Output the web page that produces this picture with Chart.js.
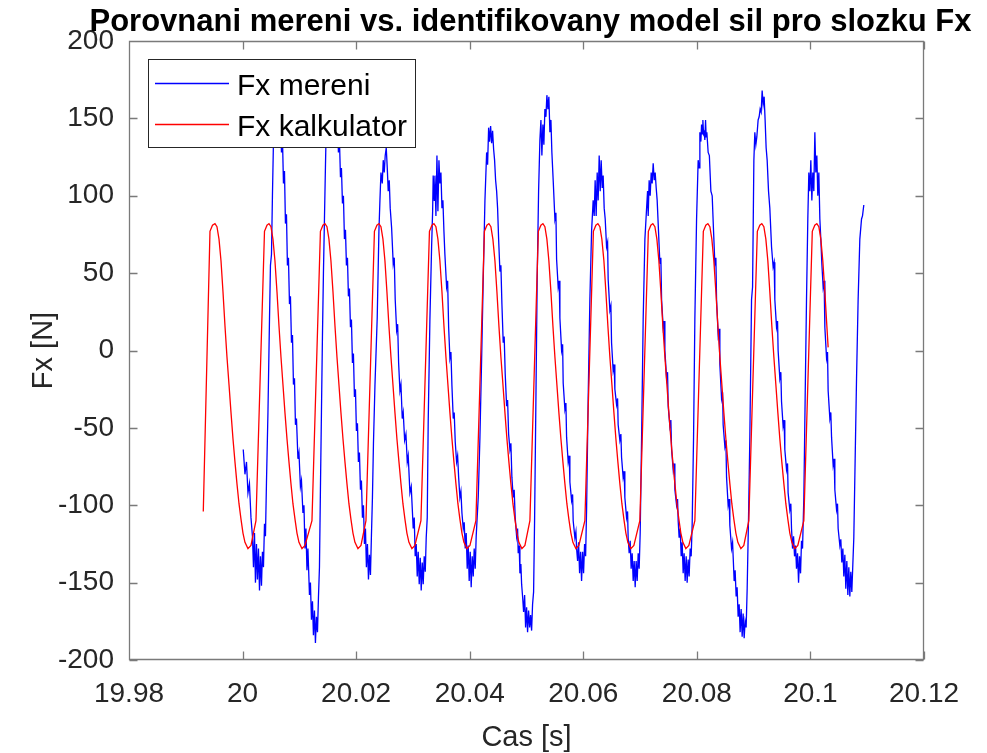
<!DOCTYPE html>
<html>
<head>
<meta charset="utf-8">
<title>Fx mereni vs. model</title>
<script src="https://cdn.jsdelivr.net/npm/chart.js@4.4.1/dist/chart.umd.min.js"></script>
<style>
    html, body { margin: 0; padding: 0; background: #ffffff; }
    #box { width: 987px; height: 753px; }
</style>
</head>
<body>
<div id="box"><canvas id="fxChart" width="987" height="753"></canvas></div>
<script>
const chartTitle = 'Porovnani mereni vs. identifikovany model sil pro slozku Fx';
const xAxisLabel = 'Cas [s]';
const yAxisLabel = 'Fx [N]';
const seriesNames = ['Fx mereni', 'Fx kalkulator'];

const xTicks = [19.98, 20, 20.02, 20.04, 20.06, 20.08, 20.1, 20.12];
const xTickLabels = ['19.98', '20', '20.02', '20.04', '20.06', '20.08', '20.1', '20.12'];
const yTicks = [-200, -150, -100, -50, 0, 50, 100, 150, 200];

// measured force (blue)
const measuredTime = [
    20.00012, 20.00042, 20.00069, 20.00095, 20.00121, 20.00148, 20.00174, 20.00192, 20.00210, 20.00227,
    20.00245, 20.00262, 20.00280, 20.00298, 20.00315, 20.00333, 20.00350, 20.00368, 20.00386, 20.00403,
    20.00421, 20.00447, 20.00474, 20.00491, 20.00509, 20.00526, 20.00544, 20.00570, 20.00641, 20.00667,
    20.00685, 20.00702, 20.00720, 20.00738, 20.00755, 20.00773, 20.00790, 20.00808, 20.00826, 20.00843,
    20.00861, 20.00879, 20.00896, 20.00914, 20.00931, 20.00949, 20.00975, 20.00993, 20.01019, 20.01037,
    20.01063, 20.01081, 20.01099, 20.01116, 20.01134, 20.01151, 20.01178, 20.01195, 20.01213, 20.01231,
    20.01248, 20.01266, 20.01283, 20.01301, 20.01319, 20.01336, 20.01354, 20.01371, 20.01389, 20.01407,
    20.01424, 20.01442, 20.01460, 20.01477, 20.01504, 20.01644, 20.01671, 20.01688, 20.01706, 20.01724,
    20.01741, 20.01759, 20.01776, 20.01794, 20.01812, 20.01829, 20.01847, 20.01864, 20.01882, 20.01900,
    20.01917, 20.01935, 20.01952, 20.01970, 20.01988, 20.02005, 20.02023, 20.02040, 20.02058, 20.02076,
    20.02093, 20.02111, 20.02129, 20.02146, 20.02164, 20.02181, 20.02199, 20.02217, 20.02234, 20.02252,
    20.02269, 20.02287, 20.02305, 20.02331, 20.02371, 20.02401, 20.02419, 20.02437, 20.02460, 20.02477,
    20.02495, 20.02512, 20.02530, 20.02548, 20.02565, 20.02583, 20.02600, 20.02625, 20.02653, 20.02671,
    20.02688, 20.02713, 20.02731, 20.02748, 20.02771, 20.02789, 20.02812, 20.02829, 20.02854, 20.02877,
    20.02900, 20.02917, 20.02947, 20.02970, 20.03005, 20.03023, 20.03040, 20.03058, 20.03076, 20.03093,
    20.03111, 20.03129, 20.03146, 20.03164, 20.03181, 20.03199, 20.03217, 20.03234, 20.03252, 20.03269,
    20.03299, 20.03329, 20.03347, 20.03357, 20.03375, 20.03387, 20.03405, 20.03423, 20.03440, 20.03458,
    20.03475, 20.03493, 20.03511, 20.03528, 20.03546, 20.03563, 20.03593, 20.03611, 20.03629, 20.03651,
    20.03669, 20.03687, 20.03710, 20.03727, 20.03745, 20.03769, 20.03787, 20.03805, 20.03827, 20.03845,
    20.03863, 20.03886, 20.03903, 20.03921, 20.03938, 20.03956, 20.03974, 20.03991, 20.04009, 20.04026,
    20.04044, 20.04062, 20.04079, 20.04097, 20.04114, 20.04150, 20.04180, 20.04210, 20.04238, 20.04268,
    20.04298, 20.04315, 20.04333, 20.04350, 20.04368, 20.04386, 20.04403, 20.04421, 20.04438, 20.04456,
    20.04474, 20.04491, 20.04509, 20.04532, 20.04549, 20.04567, 20.04590, 20.04607, 20.04625, 20.04650,
    20.04667, 20.04685, 20.04708, 20.04725, 20.04743, 20.04766, 20.04783, 20.04801, 20.04826, 20.04843,
    20.04854, 20.04871, 20.04884, 20.04901, 20.04914, 20.04931, 20.04949, 20.04967, 20.04984, 20.05002,
    20.05019, 20.05037, 20.05055, 20.05072, 20.05090, 20.05107, 20.05125, 20.05143, 20.05166, 20.05188,
    20.05213, 20.05236, 20.05254, 20.05271, 20.05289, 20.05306, 20.05324, 20.05342, 20.05359, 20.05377,
    20.05394, 20.05412, 20.05430, 20.05447, 20.05470, 20.05500, 20.05518, 20.05530, 20.05558, 20.05576,
    20.05588, 20.05618, 20.05636, 20.05646, 20.05676, 20.05694, 20.05706, 20.05734, 20.05752, 20.05764,
    20.05794, 20.05812, 20.05822, 20.05852, 20.05870, 20.05882, 20.05900, 20.05917, 20.05935, 20.05953,
    20.05970, 20.05988, 20.06005, 20.06023, 20.06041, 20.06058, 20.06086, 20.06116, 20.06146, 20.06174,
    20.06192, 20.06209, 20.06227, 20.06245, 20.06262, 20.06280, 20.06298, 20.06315, 20.06333, 20.06350,
    20.06368, 20.06386, 20.06410, 20.06428, 20.06438, 20.06468, 20.06486, 20.06498, 20.06526, 20.06544,
    20.06556, 20.06586, 20.06604, 20.06614, 20.06644, 20.06662, 20.06674, 20.06702, 20.06720, 20.06732,
    20.06762, 20.06780, 20.06790, 20.06808, 20.06826, 20.06843, 20.06861, 20.06879, 20.06896, 20.06914,
    20.06931, 20.06949, 20.06967, 20.06984, 20.07002, 20.07027, 20.07055, 20.07085, 20.07115, 20.07132,
    20.07143, 20.07160, 20.07178, 20.07196, 20.07213, 20.07231, 20.07249, 20.07266, 20.07284, 20.07301,
    20.07319, 20.07349, 20.07366, 20.07379, 20.07407, 20.07424, 20.07437, 20.07467, 20.07484, 20.07495,
    20.07525, 20.07542, 20.07555, 20.07583, 20.07600, 20.07613, 20.07643, 20.07660, 20.07671, 20.07688,
    20.07706, 20.07724, 20.07741, 20.07759, 20.07776, 20.07794, 20.07812, 20.07829, 20.07847, 20.07864,
    20.07882, 20.07900, 20.07917, 20.07942, 20.07965, 20.07995, 20.08023, 20.08041, 20.08053, 20.08071,
    20.08083, 20.08094, 20.08106, 20.08118, 20.08129, 20.08141, 20.08153, 20.08164, 20.08176, 20.08199,
    20.08220, 20.08247, 20.08270, 20.08294, 20.08317, 20.08335, 20.08347, 20.08375, 20.08393, 20.08405,
    20.08435, 20.08453, 20.08463, 20.08493, 20.08511, 20.08523, 20.08551, 20.08569, 20.08581, 20.08611,
    20.08629, 20.08639, 20.08657, 20.08674, 20.08692, 20.08709, 20.08727, 20.08745, 20.08762, 20.08780,
    20.08798, 20.08815, 20.08833, 20.08850, 20.08868, 20.08886, 20.08910, 20.08933, 20.08963, 20.08981,
    20.09004, 20.09021, 20.09039, 20.09056, 20.09079, 20.09097, 20.09114, 20.09132, 20.09150, 20.09167,
    20.09185, 20.09202, 20.09220, 20.09238, 20.09262, 20.09285, 20.09315, 20.09343, 20.09361, 20.09373,
    20.09403, 20.09421, 20.09431, 20.09461, 20.09479, 20.09491, 20.09519, 20.09537, 20.09549, 20.09579,
    20.09597, 20.09607, 20.09637, 20.09655, 20.09667, 20.09685, 20.09703, 20.09720, 20.09738, 20.09755,
    20.09773, 20.09791, 20.09808, 20.09826, 20.09843, 20.09861, 20.09884, 20.09907, 20.09931, 20.09954,
    20.09972, 20.09990, 20.10007, 20.10025, 20.10042, 20.10060, 20.10078, 20.10095, 20.10113, 20.10130,
    20.10148, 20.10166, 20.10183, 20.10201, 20.10224, 20.10241, 20.10254, 20.10284, 20.10301, 20.10312,
    20.10342, 20.10359, 20.10372, 20.10400, 20.10417, 20.10430, 20.10460, 20.10477, 20.10488, 20.10518,
    20.10535, 20.10553, 20.10571, 20.10588, 20.10606, 20.10623, 20.10641, 20.10659, 20.10676, 20.10694,
    20.10711, 20.10729, 20.10747, 20.10764, 20.10782, 20.10812, 20.10840, 20.10870, 20.10900, 20.10917,
    20.10940
];
const measuredForce = [
    -64, -80, -72, -92, -86, -108, -120, -140, -118, -150,
    -125, -148, -128, -155, -133, -152, -130, -140, -112, -120,
    -85, -40, 20, 55, 62, 100, 135, 175, 178, 150,
    128, 138, 108, 116, 82, 88, 55, 60, 30, 35,
    5, 10, -22, -18, -48, -44, -70, -66, -88, -84,
    -105, -100, -128, -115, -142, -128, -158, -150, -174, -162,
    -184, -168, -189, -172, -182, -160, -140, -90, -40, 10,
    50, 85, 120, 150, 180, 180, 150, 128, 136, 112,
    118, 95, 100, 72, 78, 55, 60, 35, 40, 15,
    20, -8, -2, -30, -25, -52, -47, -72, -66, -90,
    -84, -108, -100, -125, -115, -140, -125, -148, -132, -145,
    -120, -95, -60, -23, 21, 77, 97, 115, 108, 123,
    115, 126, 131, 118, 103, 110, 92, 79, 56, 60,
    33, 13, 17, -8, -26, -22, -44, -40, -58, -54,
    -72, -68, -92, -88, -115, -108, -133, -125, -146, -130,
    -151, -134, -155, -137, -151, -133, -143, -121, -108, -46,
    20, 67, 90, 113, 97, 113, 87, 126, 90, 123,
    108, 115, 92, 97, 77, 62, 41, 45, 15, -5,
    -1, -23, -44, -40, -59, -72, -68, -82, -95, -91,
    -105, -115, -111, -128, -118, -141, -126, -149, -130, -153,
    -133, -146, -128, -141, -120, -95, -56, -5, 46, 97,
    128, 120, 144, 135, 145, 134, 142, 130, 123, 110,
    103, 92, 72, 51, 55, 30, 5, 9, -15, -36,
    -32, -54, -64, -60, -82, -95, -90, -108, -120, -115,
    -131, -126, -144, -138, -151, -159, -169, -158, -179, -166,
    -182, -168, -179, -171, -181, -164, -156, -108, -31, 46,
    103, 136, 149, 126, 146, 133, 156, 151, 165, 156,
    164, 141, 149, 128, 110, 85, 89, 59, 41, 45,
    21, 0, 4, -21, -38, -34, -56, -72, -68, -85,
    -97, -93, -110, -121, -117, -128, -136, -124, -144, -130,
    -149, -130, -144, -125, -133, -103, -31, 33, 77, 97,
    87, 110, 87, 115, 97, 126, 103, 123, 105, 113,
    92, 85, 67, 70, 46, 26, 29, 5, -13, -9,
    -25, -35, -31, -48, -58, -54, -69, -82, -78, -95,
    -108, -104, -121, -131, -123, -141, -131, -149, -136, -153,
    -136, -149, -131, -141, -118, -56, 21, 72, 92, 103,
    87, 110, 100, 115, 108, 121, 110, 115, 105, 97,
    82, 56, 60, 33, 15, 19, 0, -18, -14, -36,
    -49, -45, -64, -77, -73, -90, -100, -96, -110, -121,
    -115, -133, -124, -144, -131, -149, -133, -150, -135, -146,
    -128, -133, -113, -56, 21, 85, 123, 118, 141, 135,
    146, 140, 149, 140, 141, 136, 149, 138, 141, 128,
    126, 103, 100, 77, 56, 60, 33, 10, 14, -9,
    -31, -27, -48, -62, -58, -82, -100, -96, -113, -128,
    -124, -133, -149, -142, -159, -153, -172, -164, -182, -167,
    -185, -170, -186, -175, -179, -154, -108, -56, 33, 41,
    123, 141, 133, 138, 149, 151, 156, 154, 168, 159,
    164, 149, 131, 123, 103, 92, 67, 54, 57, 33,
    15, 19, 0, -18, -14, -33, -49, -45, -64, -77,
    -73, -92, -103, -99, -115, -128, -120, -133, -126, -141,
    -131, -150, -133, -144, -123, -128, -95, -31, 33, 85,
    115, 103, 123, 97, 115, 103, 141, 115, 126, 100,
    115, 85, 72, 56, 41, 45, 15, -5, -1, -26,
    -44, -40, -56, -74, -70, -90, -103, -99, -115, -126,
    -122, -137, -128, -146, -132, -154, -136, -158, -140, -159,
    -143, -156, -138, -121, -82, -18, 33, 72, 85, 87,
    94
];

// identified model (red)
const modelTime = [
    19.99308, 19.99426, 19.99470,
    19.99514, 19.99549, 19.99585, 19.99620, 19.99655, 19.99690, 19.99725, 19.99761, 19.99796, 19.99831, 19.99866,
    19.99901, 19.99937, 19.99972, 20.00007, 20.00042, 20.00095, 20.00148, 20.00236, 20.00386, 20.00430,
    20.00465, 20.00500, 20.00535, 20.00570, 20.00606, 20.00641, 20.00676, 20.00711, 20.00746, 20.00782, 20.00817,
    20.00852, 20.00887, 20.00923, 20.00958, 20.00993, 20.01046, 20.01099, 20.01222, 20.01371, 20.01415,
    20.01451, 20.01486, 20.01521, 20.01556, 20.01592, 20.01627, 20.01662, 20.01697, 20.01732, 20.01768, 20.01803,
    20.01838, 20.01873, 20.01908, 20.01944, 20.01979, 20.02032, 20.02085, 20.02173, 20.02322, 20.02366,
    20.02401, 20.02437, 20.02472, 20.02507, 20.02542, 20.02577, 20.02613, 20.02648, 20.02683, 20.02718, 20.02754,
    20.02789, 20.02824, 20.02859, 20.02894, 20.02930, 20.02982, 20.03035, 20.03141, 20.03291, 20.03335,
    20.03370, 20.03405, 20.03440, 20.03475, 20.03511, 20.03546, 20.03581, 20.03616, 20.03651, 20.03687, 20.03722,
    20.03757, 20.03792, 20.03827, 20.03863, 20.03898, 20.03951, 20.04004, 20.04109, 20.04259, 20.04303,
    20.04338, 20.04373, 20.04408, 20.04444, 20.04479, 20.04514, 20.04549, 20.04585, 20.04620, 20.04655, 20.04690,
    20.04725, 20.04761, 20.04796, 20.04831, 20.04866, 20.04919, 20.04972, 20.05060, 20.05209, 20.05254,
    20.05289, 20.05324, 20.05359, 20.05394, 20.05430, 20.05465, 20.05500, 20.05535, 20.05570, 20.05606, 20.05641,
    20.05676, 20.05711, 20.05746, 20.05782, 20.05817, 20.05870, 20.05923, 20.06028, 20.06178, 20.06222,
    20.06257, 20.06292, 20.06327, 20.06363, 20.06398, 20.06433, 20.06468, 20.06504, 20.06539, 20.06574, 20.06609,
    20.06644, 20.06680, 20.06715, 20.06750, 20.06785, 20.06838, 20.06891, 20.06996, 20.07146, 20.07190,
    20.07225, 20.07261, 20.07296, 20.07331, 20.07366, 20.07401, 20.07437, 20.07472, 20.07507, 20.07542, 20.07577,
    20.07613, 20.07648, 20.07683, 20.07718, 20.07754, 20.07806, 20.07859, 20.07965, 20.08114, 20.08158,
    20.08194, 20.08229, 20.08264, 20.08299, 20.08335, 20.08370, 20.08405, 20.08440, 20.08475, 20.08511, 20.08546,
    20.08581, 20.08616, 20.08651, 20.08687, 20.08722, 20.08775, 20.08827, 20.08915, 20.09065, 20.09109,
    20.09144, 20.09180, 20.09215, 20.09250, 20.09285, 20.09320, 20.09356, 20.09391, 20.09426, 20.09461, 20.09496,
    20.09532, 20.09567, 20.09602, 20.09637, 20.09673, 20.09725, 20.09778, 20.09884, 20.10033, 20.10077,
    20.10113, 20.10148, 20.10183, 20.10218, 20.10254, 20.10289, 20.10312
];
const modelForce = [
    -104, 77, 81,
    82, 80, 72, 58, 38, 16, -4, -22, -40, -57, -72, -86, -99, -109, -118, -124, -128, -126, -110, 77, 81,
    82, 80, 72, 58, 38, 16, -4, -22, -40, -57, -72, -86, -99, -109, -118, -124, -128, -126, -110, 77, 81,
    82, 80, 72, 58, 38, 16, -4, -22, -40, -57, -72, -86, -99, -109, -118, -124, -128, -126, -110, 77, 81,
    82, 80, 72, 58, 38, 16, -4, -22, -40, -57, -72, -86, -99, -109, -118, -124, -128, -126, -110, 77, 81,
    82, 80, 72, 58, 38, 16, -4, -22, -40, -57, -72, -86, -99, -109, -118, -124, -128, -126, -110, 77, 81,
    82, 80, 72, 58, 38, 16, -4, -22, -40, -57, -72, -86, -99, -109, -118, -124, -128, -126, -110, 77, 81,
    82, 80, 72, 58, 38, 16, -4, -22, -40, -57, -72, -86, -99, -109, -118, -124, -128, -126, -110, 77, 81,
    82, 80, 72, 58, 38, 16, -4, -22, -40, -57, -72, -86, -99, -109, -118, -124, -128, -126, -110, 77, 81,
    82, 80, 72, 58, 38, 16, -4, -22, -40, -57, -72, -86, -99, -109, -118, -124, -128, -126, -110, 77, 81,
    82, 80, 72, 58, 38, 16, -4, -22, -40, -57, -72, -86, -99, -109, -118, -124, -128, -126, -110, 77, 81,
    82, 80, 72, 58, 38, 16, -4, -22, -40, -57, -72, -86, -99, -109, -118, -124, -128, -126, -110, 77, 81,
    82, 80, 72, 58, 38, 16, 2
];

const seriesColors = ['#0000ff', '#ff0000'];
const fontFamily = '"Liberation Sans", Arial, Helvetica, sans-serif';
const axisColor = '#262626';

function toPoints(times, values) {
    return times.map(function(t, i) { return { x: t, y: values[i] }; });
}

// MATLAB-like box, inward ticks, title, axis labels and legend
const matlabFrame = {
    id: 'matlabFrame',
    afterDraw: function(chart) {
        const ctx = chart.ctx;
        const area = chart.chartArea;
        const xs = chart.scales.x;
        const ys = chart.scales.y;
        const left = Math.round(area.left) + 0.5;
        const right = Math.round(area.right) - 0.5;
        const top = Math.round(area.top) + 0.5;
        const bottom = Math.round(area.bottom) - 0.5;
        const tick = 8;

        ctx.save();
        ctx.strokeStyle = '#7a7a7a';
        ctx.lineWidth = 1.3;
        ctx.beginPath();
        ctx.rect(left, top, right - left, bottom - top);
        xTicks.forEach(function(v) {
            const px = Math.round(xs.getPixelForValue(v)) + 0.5;
            ctx.moveTo(px, bottom); ctx.lineTo(px, bottom - tick);
            ctx.moveTo(px, top); ctx.lineTo(px, top + tick);
        });
        yTicks.forEach(function(v) {
            const py = Math.round(ys.getPixelForValue(v)) + 0.5;
            ctx.moveTo(left, py); ctx.lineTo(left + tick, py);
            ctx.moveTo(right, py); ctx.lineTo(right - tick, py);
        });
        ctx.stroke();

        // title
        ctx.fillStyle = '#000000';
        ctx.font = 'bold 31px ' + fontFamily;
        ctx.textAlign = 'center';
        ctx.textBaseline = 'alphabetic';
        ctx.fillText(chartTitle, (area.left + area.right) / 2 + 4, 31);

        // axis labels
        ctx.fillStyle = axisColor;
        ctx.font = '29px ' + fontFamily;
        ctx.fillText(xAxisLabel, (area.left + area.right) / 2, 746);
        ctx.save();
        ctx.translate(52, (area.top + area.bottom) / 2);
        ctx.rotate(-Math.PI / 2);
        ctx.fillText(yAxisLabel, 0, 0);
        ctx.restore();

        // legend box
        const lx = 148, ly = 59, lw = 268, lh = 89;
        ctx.fillStyle = '#ffffff';
        ctx.fillRect(lx, ly, lw, lh);
        ctx.strokeStyle = '#262626';
        ctx.lineWidth = 1;
        ctx.strokeRect(lx + 0.5, ly + 0.5, lw - 1, lh - 1);
        const rows = [83.5, 124.5];
        ctx.font = '30px ' + fontFamily;
        ctx.textAlign = 'left';
        seriesNames.forEach(function(name, i) {
            ctx.strokeStyle = seriesColors[i];
            ctx.lineWidth = 1.3;
            ctx.beginPath();
            ctx.moveTo(155, rows[i]);
            ctx.lineTo(229, rows[i]);
            ctx.stroke();
            ctx.fillStyle = '#000000';
            ctx.fillText(name, 237, rows[i] + 11.5);
        });
        ctx.restore();
    }
};

function buildChart() {
    const ctx = document.getElementById('fxChart').getContext('2d');
    new Chart(ctx, {
        type: 'line',
        data: {
            datasets: [{
                label: seriesNames[0],
                data: toPoints(measuredTime, measuredForce),
                borderColor: seriesColors[0],
                borderWidth: 1.3,
                pointRadius: 0,
                tension: 0,
                fill: false,
                order: 2
            }, {
                label: seriesNames[1],
                data: toPoints(modelTime, modelForce),
                borderColor: seriesColors[1],
                borderWidth: 1.3,
                pointRadius: 0,
                tension: 0,
                fill: false,
                order: 1
            }]
        },
        options: {
            responsive: false,
            animation: false,
            devicePixelRatio: 1,
            events: [],
            layout: { padding: { left: 0, top: 41, right: 63, bottom: 0 } },
            plugins: {
                legend: { display: false },
                title: { display: false },
                tooltip: { enabled: false }
            },
            scales: {
                x: {
                    type: 'linear',
                    min: 19.98,
                    max: 20.12,
                    grid: { display: false, drawTicks: false },
                    border: { display: false },
                    afterBuildTicks: function(scale) {
                        scale.ticks = xTicks.map(function(v) { return { value: v }; });
                    },
                    afterFit: function(scale) { scale.height = 93; },
                    ticks: {
                        autoSkip: false,
                        maxRotation: 0,
                        padding: 17,
                        color: axisColor,
                        font: { family: fontFamily, size: 28 },
                        callback: function(value, index) { return xTickLabels[index]; }
                    }
                },
                y: {
                    min: -200,
                    max: 200,
                    grid: { display: false, drawTicks: false },
                    border: { display: false },
                    afterBuildTicks: function(scale) {
                        scale.ticks = yTicks.map(function(v) { return { value: v }; });
                    },
                    afterFit: function(scale) { scale.width = 129; },
                    ticks: {
                        padding: 15,
                        color: axisColor,
                        font: { family: fontFamily, size: 28 },
                        callback: function(value) { return String(value); }
                    }
                }
            }
        },
        plugins: [matlabFrame]
    });
}

document.addEventListener('DOMContentLoaded', function() {
    buildChart();
});
</script>
</body>
</html>
